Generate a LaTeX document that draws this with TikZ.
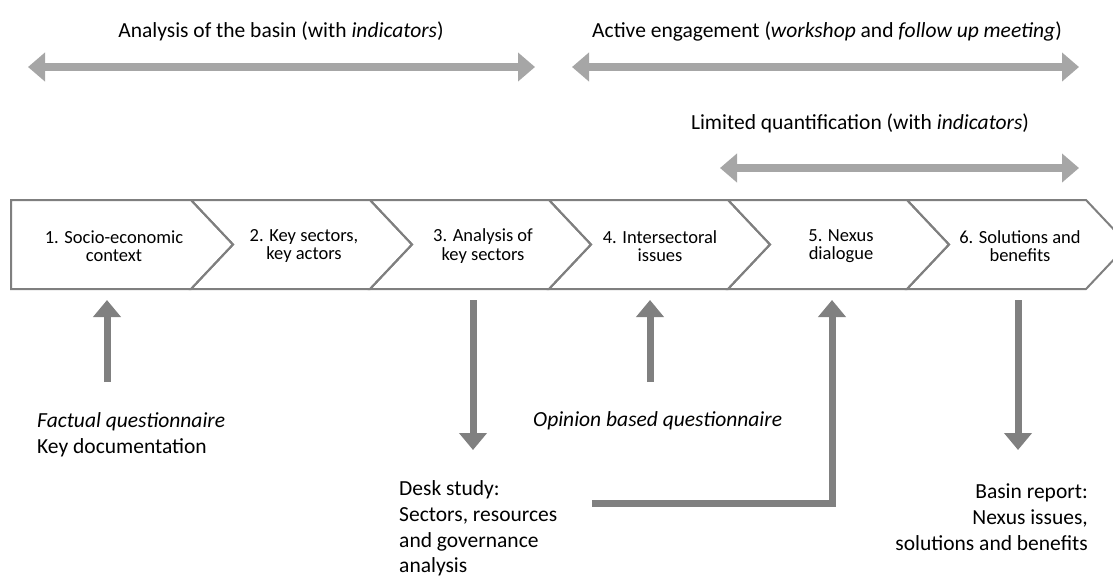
\documentclass[tikz,border=0pt]{standalone}
\usepackage{fontspec}
\setmainfont{Carlito}
\usetikzlibrary{arrows.meta}
\definecolor{phasegray}{HTML}{A6A6A6}
\definecolor{flowgray}{HTML}{808080}
\definecolor{chevgray}{HTML}{7F7F7F}

\begin{document}
\begin{tikzpicture}
        [x=1pt, y=-1pt,
        chevron/.style={draw=chevgray, line width=2pt, line join=miter},
        steplabel/.style={align=center, inner sep=0pt, font=\fontsize{18.5}{18.5}\selectfont},
        phase/.style={inner sep=0pt, font=\fontsize{21.5}{25.5}\selectfont},
        note/.style={inner sep=0pt, font=\fontsize{21.5}{25.7}\selectfont},
        phasearrow/.style={phasegray, line width=8pt, {Triangle[width=28pt,length=17pt]}-{Triangle[width=28pt,length=17pt]}},
        flow/.style={flowgray, line width=7pt, -{Triangle[width=27pt,length=17pt]}}]

        \useasboundingbox (0,0) rectangle (1113,576);

        % chevrons of the six steps
        \draw[chevron] (11,200) -- (191,200) -- (233,244.5) -- (191,289) -- (11,289) -- cycle;
        \draw[chevron] (191,200) -- (370,200) -- (412,244.5) -- (370,289) -- (191,289) -- (233,244.5) -- cycle;
        \draw[chevron] (370,200) -- (549,200) -- (591,244.5) -- (549,289) -- (370,289) -- (412,244.5) -- cycle;
        \draw[chevron] (549,200) -- (728,200) -- (770,244.5) -- (728,289) -- (549,289) -- (591,244.5) -- cycle;
        \draw[chevron] (728,200) -- (907,200) -- (949,244.5) -- (907,289) -- (728,289) -- (770,244.5) -- cycle;
        \draw[chevron] (907,200) -- (1086,200) -- (1128,244.5) -- (1086,289) -- (907,289) -- (949,244.5) -- cycle;

        \node[steplabel] (c1) at (114,246) {1. Socio-economic\\context};
        \node[steplabel] (c2) at (304,246) {2. Key sectors,\\key actors};
        \node[steplabel] (c3) at (483,246) {3. Analysis of\\key sectors};
        \node[steplabel] (c4) at (660,246) {4. Intersectoral\\issues};
        \node[steplabel] (c5) at (841,246) {5. Nexus\\dialogue};
        \node[steplabel] (c6) at (1020,246) {6. Solutions and\\benefits};

        % phases above the steps
        \node[phase] (basin) at (281,31) {Analysis of the basin (with \textit{indicators})};
        \node[phase] (engage) at (827,31) {Active engagement (\textit{workshop} and \textit{follow up meeting})};
        \node[phase] (quant) at (860,123) {Limited quantification (with \textit{indicators})};

        \coordinate (basinL) at (28,67);
        \coordinate (basinR) at (535,67);
        \coordinate (engageL) at (572,67);
        \coordinate (engageR) at (1079,67);
        \coordinate (quantL) at (720,168);
        \coordinate (quantR) at (1079,168);

        \draw[phasearrow] (basinL) -- (basinR);
        \draw[phasearrow] (engageL) -- (engageR);
        \draw[phasearrow] (quantL) -- (quantR);

        % inputs and outputs below the steps
        \node[note, anchor=west, align=left] (fact) at (37,434.5) {\textit{Factual questionnaire}\\Key documentation};
        \node[note, anchor=west] (opinion) at (533,421) {\textit{Opinion based questionnaire}};
        \node[note, anchor=west, align=left] (desk) at (399,528.5) {Desk study:\\Sectors, resources\\and governance\\analysis};
        \node[note, anchor=east, align=right] (report) at (1088,517) {Basin report:\\Nexus issues,\\solutions and benefits};

        \coordinate (factin) at (107,382);
        \coordinate (step1) at (107,300);
        \coordinate (step3) at (473,300);
        \coordinate (deskout) at (473,450);
        \coordinate (opinionin) at (650,382);
        \coordinate (step4) at (650,300);
        \coordinate (deskin) at (592,503);
        \coordinate (step5) at (832,300);
        \coordinate (step6) at (1018,300);
        \coordinate (reportout) at (1018,450);

        \draw[flow] (factin) -- (step1);
        \draw[flow] (step3) -- (deskout);
        \draw[flow] (opinionin) -- (step4);
        \draw[flow] (deskin) -| (step5);
        \draw[flow] (step6) -- (reportout);

\end{tikzpicture}
\end{document}
